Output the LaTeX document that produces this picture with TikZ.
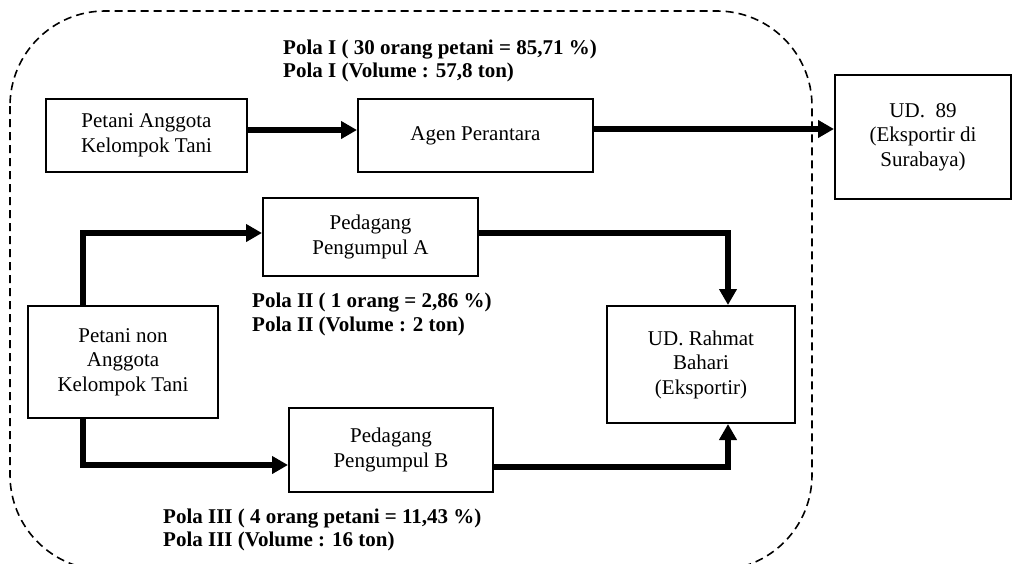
\documentclass[tikz,border=0pt]{standalone}
\usepackage{fontspec}
\setmainfont{Liberation Serif}
\usetikzlibrary{arrows.meta}
\begin{document}
\begin{tikzpicture}[x=1pt,y=-1pt,
  box/.style={draw,line width=2pt,align=center,inner sep=0pt,font=\fontsize{21pt}{24.5pt}\selectfont},
  lbl/.style={align=left,inner sep=0pt,anchor=west,font=\fontsize{21pt}{23.5pt}\selectfont\bfseries},
  arr/.style={line width=6pt,-{Triangle[length=16pt,width=17pt]}},
  region/.style={draw,dash pattern=on 8pt off 5pt,line width=1.6pt,rounded corners=95pt}]
\useasboundingbox (0,0) rectangle (1013,563);
\draw[region] (10,11) rectangle (812,570);
\node[box,minimum width=201pt,minimum height=73pt] (pak) at (146.5,135.5) {Petani Anggota\\Kelompok Tani};
\node[box,minimum width=235pt,minimum height=73pt] (agen) at (475.5,135.5) {Agen Perantara};
\node[box,minimum width=176pt,minimum height=124pt] (ud) at (923,137) {UD.\ \ 89\\(Eksportir di\\Surabaya)};
\node[box,minimum width=215pt,minimum height=78pt] (pa) at (370.5,237) {Pedagang\\Pengumpul A};
\node[box,minimum width=190pt,minimum height=112pt] (pnon) at (123,362) {Petani non\\Anggota\\Kelompok Tani};
\node[box,minimum width=204pt,minimum height=84pt] (pb) at (391,450) {Pedagang\\Pengumpul B};
\node[box,minimum width=188pt,minimum height=117pt] (rb) at (701,364.5) {UD. Rahmat\\Bahari\\(Eksportir)};
\node[lbl] (l1) at (283,61) {Pola I ( 30 orang petani = 85,71 \%)\\Pola I (Volume : 57,8 ton)};
\node[lbl] (l2) at (252,314.5) {Pola II ( 1 orang = 2,86 \%)\\Pola II (Volume : 2 ton)};
\node[lbl] (l3) at (163,530) {Pola III ( 4 orang petani = 11,43 \%)\\Pola III (Volume : 16 ton)};
\draw[arr] ([yshift=5.5pt]pak.east) -- ([yshift=5.5pt]pak.east -| agen.west);
\draw[arr] ([yshift=6.5pt]agen.east) -- ([yshift=6.5pt]agen.east -| ud.west);
\draw[arr] ([xshift=-40pt]pnon.north) |- ([yshift=4pt]pa.west);
\draw[arr] ([yshift=4pt]pa.east) -| ([xshift=27pt]rb.north);
\draw[arr] ([xshift=-40pt]pnon.south) |- ([yshift=-15pt]pb.west);
\draw[arr] ([yshift=-17pt]pb.east) -| ([xshift=27pt]rb.south);
\end{tikzpicture}
\end{document}
